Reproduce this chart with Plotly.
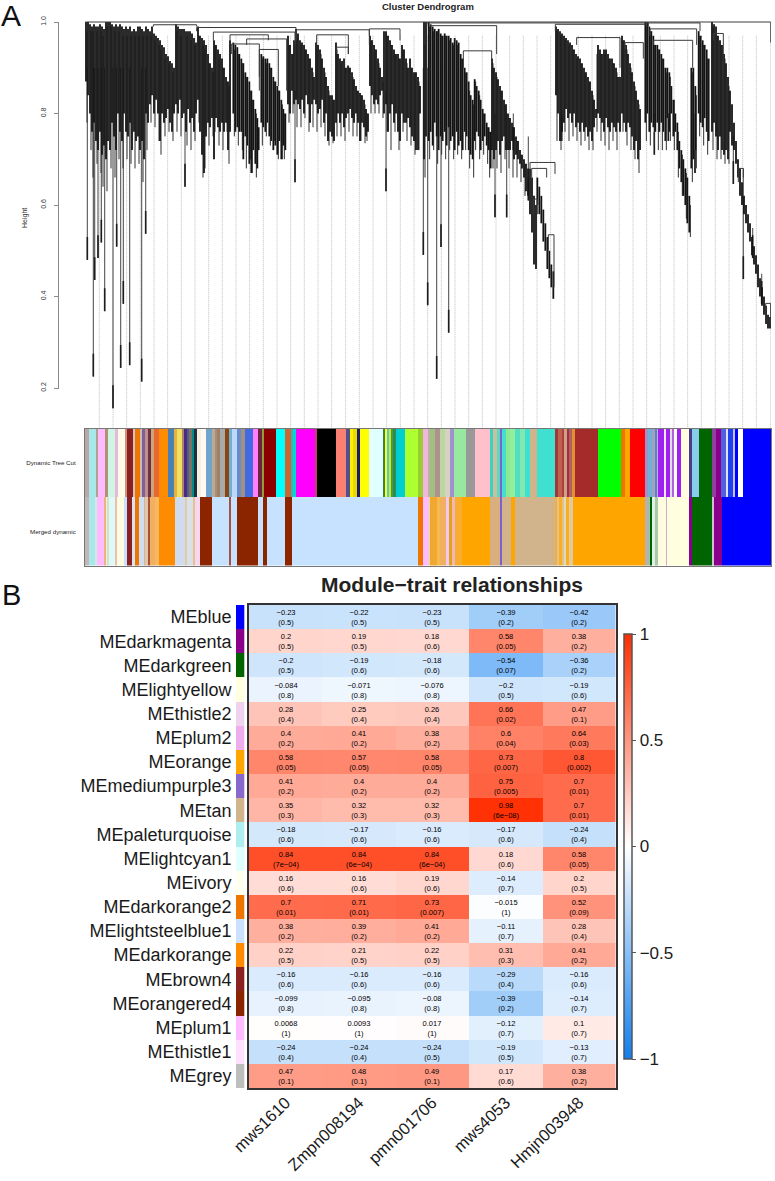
import plotly.graph_objects as go

FONT = "Liberation Sans"
W, H = 775, 1181

# ---------- Panel A data: dendrogram ----------
# (leaf rank, upper height, lower height)
cluster_a = [(258,1.0,.87),(264,1.0,.84),(270,.995,.8),(276,.99,.76),(282,.995,.78),(288,.99,.74),(294,.99,.72),(300,.995,.76),(306,.99,.71),(312,.985,.73),(318,1.0,.70),(324,1.0,.74),(330,1.0,.72),(336,.995,.78),(342,.99,.75),(348,.995,.72),(354,.99,.8),(360,.995,.76),(366,.99,.74),(372,.985,.8),(378,.99,.76),(384,.985,.75),(390,.99,.78),(396,.98,.72),(402,.985,.76),(408,.98,.74),(414,.99,.75),(420,.99,.72),(426,.985,.74),(432,.98,.7),(438,.99,.8),(444,.985,.78),(450,.98,.82)]
cluster_b = [(456,.99,.84),(462,.975,.8),(468,.97,.83),(474,.965,.8),(480,.96,.74),(486,.95,.8),(492,.945,.78),(498,.93,.79),(504,.925,.81),(510,.915,.78),(516,.91,.76),(522,.9,.8)]
cluster_c = [(528,.995,.82),(534,.99,.8),(540,.985,.83),(546,.985,.79),(552,.985,.8),(558,.98,.76),(564,.98,.81),(570,.98,.78),(576,.975,.79),(582,.965,.76),(588,.955,.8)]
cluster_d = [(594,.99,.83),(600,.97,.76),(606,.965,.71),(612,.96,.67),(618,.95,.75),(624,.93,.78),(630,.91,.77),(636,.9,.79)]
cluster_e = [(642,.96,.7),(648,.95,.79),(654,.94,.77),(660,.93,.76),(666,.92,.78),(672,.9,.76),(678,.88,.78),(684,.87,.72),(690,.96,.76)]
cluster_f = [(700,.955,.8),(706,.95,.76),(712,.945,.77),(718,.93,.76),(724,.92,.76),(730,.91,.7),(736,.89,.75),(742,.88,.73),(748,.87,.69),(754,.85,.67),(760,.83,.72),(766,.81,.69),(772,.79,.68),(776,.77,.72)]
cluster_g = [(784,.93,.78),(790,.925,.77),(796,.92,.76),(802,.92,.78),(808,.91,.75),(814,.9,.74),(820,.88,.72),(826,.87,.73),(832,.86,.71),(838,.85,.74),(844,.83,.7),(850,.81,.73),(856,.8,.72)]
cluster_h = [(864,.97,.82),(870,.95,.8),(876,.93,.85),(882,.96,.82)]
cluster_i = [(888,.985,.83),(894,.975,.82),(900,.96,.81),(906,.955,.83),(912,.95,.8),(918,.94,.84),(924,.93,.82),(930,.92,.78),(936,.9,.82),(942,.88,.83)]
cluster_j = [(948,.955,.82),(954,.95,.8),(960,.94,.81),(966,.92,.83),(972,.9,.78),(978,.88,.8),(984,.86,.74),(990,.84,.76),(996,.84,.75),(1002,.83,.74)]
cluster_k = [(1008,.955,.78),(1014,.93,.8),(1020,.92,.78),(1026,.915,.8),(1032,.92,.77),(1038,.9,.79),(1044,.905,.8),(1050,.9,.81),(1056,.89,.79),(1062,.875,.78),(1068,.86,.8),(1074,.85,.78),(1080,.845,.74),(1086,.84,.78),(1092,.83,.77),(1098,.81,.75),(1104,.8,.76)]
cluster_l = [(1110,.97,.86),(1116,.96,.84),(1122,.95,.82),(1128,.94,.83),(1134,.92,.82),(1140,.9,.84),(1146,.88,.85),(1152,.98,.8),(1158,.98,.82),(1164,.97,.76),(1170,.96,.8),(1176,.95,.82),(1182,.94,.78),(1188,.93,.8),(1194,.93,.76),(1200,.92,.74)]
cluster_m = [(1206,.95,.8),(1212,.94,.78),(1218,.92,.78),(1224,.9,.79),(1230,.92,.77),(1236,.9,.75),(1242,.89,.74),(1248,.89,.72),(1254,.88,.72),(1260,.86,.8)]
cluster_n = [(1272,1.0,.7),(1278,1.0,.75)]
cluster_o = [(1286,1.0,.74),(1292,.995,.76),(1298,.99,.73),(1304,.985,.78),(1310,.98,.75),(1316,.985,.72),(1322,.975,.75),(1328,.97,.74),(1334,.975,.76),(1340,.97,.73),(1346,.97,.77),(1352,.965,.74),(1358,.955,.75),(1364,.965,.72),(1370,.96,.76),(1376,.955,.73)]
cluster_p = [(1382,.93,.74),(1388,.92,.72),(1394,.9,.76),(1400,.89,.75),(1406,.87,.72),(1412,.84,.71),(1418,.83,.7)]
cluster_q = [(1424,.875,.74),(1430,.86,.76),(1436,.85,.75),(1442,.83,.72),(1448,.81,.74),(1454,.8,.75),(1460,.78,.73),(1466,.77,.72),(1472,.76,.68)]
cluster_r = [(1476,.92,.72),(1482,.9,.7),(1488,.89,.72),(1494,.875,.74),(1500,.86,.71),(1506,.85,.74),(1512,.83,.75),(1518,.82,.72),(1524,.8,.72),(1530,.79,.72),(1536,.78,.74),(1542,.77,.7),(1548,.75,.71),(1554,.74,.7),(1560,.72,.69),(1566,.71,.68),(1572,.7,.66),(1578,.69,.63),(1584,.68,.62)]
cluster_s = [(1590,.68,.58),(1596,.66,.54),(1602,.62,.47),(1608,.6,.46)]
cluster_t = [(1612,.66,.6),(1618,.64,.58),(1624,.62,.56),(1630,.59,.52),(1636,.56,.5),(1642,.53,.46),(1648,.5,.44),(1654,.47,.42),(1660,.455,.395)]
cluster_u = [(1668,.99,.84),(1674,.985,.8),(1680,.98,.74),(1686,.975,.76),(1692,.97,.78),(1698,.965,.81),(1704,.96,.79),(1710,.955,.8),(1716,.95,.78),(1722,.94,.8),(1728,.93,.77)]
cluster_v = [(1734,.925,.78),(1740,.92,.76),(1746,.91,.78),(1752,.9,.76),(1758,.89,.77),(1764,.88,.75),(1770,.87,.76),(1776,.85,.74),(1782,.83,.77),(1788,.81,.79)]
cluster_w = [(1794,.95,.8),(1800,.94,.79),(1806,.93,.78),(1812,.94,.76),(1818,.94,.79),(1824,.93,.77),(1830,.92,.76),(1836,.92,.78),(1842,.91,.77),(1848,.9,.76)]
cluster_x = [(1854,.88,.78),(1860,.88,.76)]
cluster_y = [(1866,.97,.8),(1872,.96,.78),(1878,.95,.76),(1884,.93,.78),(1890,.91,.77),(1896,.89,.75),(1902,.87,.72),(1908,.85,.74),(1914,.83,.7),(1920,.81,.72)]
cluster_z = [(1936,1.0,.78),(1942,1.0,.8),(1948,.99,.76),(1954,.98,.78),(1960,.97,.77),(1966,.95,.76),(1972,.95,.78),(1978,.94,.76),(1984,.93,.78),(1990,.92,.76),(1996,.9,.74)]
cluster_aa = [(2002,.9,.79),(2008,.89,.76),(2014,.86,.8),(2020,.83,.75),(2026,.8,.76),(2032,.78,.72),(2038,.74,.68),(2044,.72,.65),(2050,.7,.62),(2056,.68,.6),(2062,.66,.56),(2068,.62,.54)]
cluster_ab = [(2074,.9,.68),(2080,.9,.7),(2086,.86,.72)]
cluster_ac = [(2096,.98,.8),(2102,.97,.78),(2108,.96,.77),(2114,.95,.79),(2120,.94,.76),(2126,.92,.74)]
cluster_ad = [(2136,1.0,.76),(2142,.995,.78),(2148,.99,.75),(2154,.97,.72),(2160,.96,.75),(2166,.95,.72),(2172,.93,.71),(2178,.91,.72),(2184,.88,.7)]
cluster_ae = [(2190,.85,.76),(2196,.82,.73),(2202,.78,.72),(2208,.74,.69),(2214,.7,.66),(2220,.68,.62),(2226,.65,.6),(2232,.62,.58),(2238,.6,.56),(2244,.58,.54),(2250,.56,.52),(2256,.53,.49),(2262,.51,.47),(2268,.49,.45),(2274,.47,.42),(2280,.44,.4),(2286,.42,.38),(2292,.4,.36),(2298,.38,.34),(2304,.36,.33),(2310,.355,.33)]

# fine twigs hanging below the dense part
twigs = [(261,.98,.78),(273,.98,.72),(279,.98,.66),(291,.98,.69),(303,.98,.67),(309,.97,.64),(321,.99,.63),(333,.99,.68),(345,.98,.66),(357,.98,.7),(369,.97,.68),(381,.97,.7),(393,.97,.69),(405,.97,.68),(417,.97,.69),(429,.97,.65),(441,.97,.72),(453,.97,.78),
         (465,.96,.77),(477,.95,.74),(483,.94,.71),(495,.92,.75),(507,.91,.76),(519,.89,.74),(531,.98,.76),(543,.97,.75),(561,.97,.73),(573,.96,.72),(585,.95,.74),
         (597,.97,.78),(609,.95,.66),(615,.94,.68),(627,.91,.73),(639,.89,.75),(645,.95,.76),(657,.92,.73),(669,.9,.72),(681,.87,.76),(687,.86,.69),
         (703,.94,.75),(715,.93,.73),(727,.91,.72),(739,.88,.68),(751,.85,.7),(757,.83,.67),(769,.8,.66),(787,.92,.73),(799,.91,.75),(811,.9,.73),(823,.87,.74),(835,.85,.7),(847,.82,.7),(853,.8,.7),
         (867,.95,.78),(879,.93,.8),(891,.97,.77),(903,.95,.77),(915,.94,.79),(927,.92,.76),(939,.89,.77),(951,.94,.76),(963,.93,.77),(975,.89,.75),(987,.85,.73),(999,.83,.735),
         (1011,.94,.75),(1023,.91,.75),(1035,.9,.74),(1047,.9,.76),(1059,.88,.75),(1071,.85,.75),(1083,.84,.74),(1095,.82,.735),(1101,.8,.74),
         (1113,.96,.8),(1125,.94,.8),(1137,.91,.8),(1149,.87,.79),(1161,.97,.76),(1173,.95,.72),(1185,.93,.76),(1197,.92,.72),(1209,.94,.76),(1221,.91,.74),(1233,.9,.73),(1245,.89,.71),(1257,.87,.72),(1275,.95,.66),
         (1289,.99,.7),(1301,.98,.72),(1313,.98,.69),(1325,.97,.71),(1337,.97,.7),(1349,.96,.72),(1361,.95,.7),(1373,.95,.71),(1385,.92,.7),(1397,.89,.72),(1409,.85,.68),(1421,.82,.66),
         (1427,.87,.72),(1439,.84,.7),(1451,.8,.71),(1463,.77,.69),(1469,.76,.66),(1479,.91,.68),(1491,.88,.68),(1503,.85,.67),(1515,.82,.7),(1527,.79,.68),(1539,.77,.66),(1551,.74,.66),(1563,.71,.65),(1575,.69,.62),
         (1671,.98,.74),(1683,.97,.72),(1695,.96,.76),(1707,.95,.74),(1719,.94,.75),(1731,.92,.74),(1743,.91,.73),(1755,.89,.74),(1767,.87,.72),(1779,.84,.72),(1791,.93,.76),(1803,.93,.74),(1815,.93,.73),(1827,.92,.72),(1839,.91,.74),(1851,.89,.72),
         (1869,.96,.76),(1881,.94,.73),(1893,.9,.72),(1905,.86,.7),(1917,.82,.67),(1939,.99,.74),(1951,.98,.73),(1963,.95,.73),(1975,.94,.72),(1987,.92,.72),(1999,.89,.72),
         (2011,.88,.74),(2023,.83,.72),(2035,.76,.66),(2047,.71,.62),(2059,.67,.57),(2071,.6,.53),(2077,.89,.65),(2089,.84,.68),(2099,.97,.75),(2111,.95,.73),(2123,.92,.71),(2139,.99,.72),(2151,.97,.7),(2163,.95,.7),(2175,.92,.69),(2187,.86,.69)]

# single long branches
long_stems = [(262,.9,.48),(280,.9,.225),(284,.9,.436),(294,.9,.484),(304,.9,.518),(314,.9,.368),(339,.9,.156),(350,.9,.509),(362,.9,.244),(370,.9,.384),(389,.9,.25),(425,.9,.214),(437,.9,.537),(555,.8,.64),(885,.85,.65),(1158,.85,.63),(1270,.9,.491),(1283,.9,.381),(1310,.9,.22),(1323,.9,.508),(1346,.9,.321),(1485,.8,.573),(1520,.8,.573),(1540,.8,.72),(1585,.75,.61),(1685,.8,.74),(1963,.8,.71),(2005,.8,.74),(2085,.8,.67),(2200,.75,.646),(2230,.68,.438),(2258,.55,.484),(2285,.45,.384),(2312,1.0,.955)]

# merges: left rank, right rank, merge height, left drop, right drop
merges = [(256,2312,1.0,1.0,1.0),(460,590,.994,.99,.99),(590,888,.988,.98,.96),(640,885,.978,.96,.95),(690,805,.972,.96,.96),(740,860,.963,.95,.85),(695,778,.952,.93,.85),(778,835,.94,.88,.86),(888,1108,.983,.96,.95),(950,1045,.972,.95,.93),(1010,1045,.945,.93,.93),(1108,1200,.985,.97,.96),(1290,1490,.992,.99,.93),(1390,1475,.937,.9,.9),(1590,1665,.693,.68,.668),(1595,1640,.68,.66,.66),(1280,1945,.998,.99,.99),(1666,1940,.995,.98,.99),(1730,1860,.966,.95,.9),(1875,1930,.955,.94,.92),(1940,2100,.998,.99,.98),(1950,2090,.985,.97,.95),(1960,2078,.96,.95,.9),(2140,2170,.975,.96,.93),(2215,2230,.68,.65,.66),(2297,2312,.385,.34,.34),(1645,1662,.535,.5,.42),(1600,1612,.613,.58,.58)]

guide_ranks = [298,339,380,421,462,503,544,585,626,667,708,749,790,831,872,913,954,995,1037,1078,1119,1160,1201,1242,1283,1324,1365,1406,1447,1488,1529,1570,1611,1652,1694,1735,1776,1817,1858,1899,1940,1981,2022,2063,2104,2146,2187,2228,2269,2312]

clusters = [cluster_a,cluster_b,cluster_c,cluster_d,cluster_e,cluster_f,cluster_g,cluster_h,cluster_i,cluster_j,cluster_k,cluster_l,cluster_m,cluster_n,cluster_o,cluster_p,cluster_q,cluster_r,cluster_s,cluster_t,cluster_u,cluster_v,cluster_w,cluster_x,cluster_y,cluster_z,cluster_aa,cluster_ab,cluster_ac,cluster_ad,cluster_ae]

# colour tracks: (start rank, module colour)
track_end = 2313
cut_bands = [(256,"#b8a8a8"),(268,"#a8e8e8"),(290,"#b0a090"),(294,"#ffbbff"),(314,"#b09070"),(323,"#d0f5e5"),(345,"#e8b8d8"),(354,"#fffbe8"),(374,"#d09080"),(381,"#8b2020"),(400,"#d8c0c0"),(405,"#ee7600"),(420,"#c8b8b8"),(426,"#806090"),(436,"#c09090"),(444,"#703040"),(452,"#c8a878"),(463,"#e86830"),(476,"#ff8c00"),(503,"#4682b4"),(523,"#e8b040"),(531,"#f0e060"),(545,"#b08070"),(552,"#4b2a80"),(560,"#486090"),(568,"#807060"),(575,"#008b8b"),(582,"#203040"),(590,"#f5f0e5"),(602,"#fff8f0"),(617,"#6ca6cd"),(636,"#c0a890"),(645,"#a09088"),(652,"#a08060"),(660,"#a9a9a9"),(675,"#8b4513"),(686,"#70b0d0"),(697,"#bfd8f8"),(712,"#6a8ad0"),(722,"#a09080"),(735,"#4169e1"),(760,"#ff80ff"),(775,"#702040"),(785,"#90a030"),(792,"#8b0000"),(828,"#00ffff"),(856,"#cd6633"),(875,"#40b0b0"),(880,"#00d8d8"),(889,"#ff00ff"),(945,"#c04070"),(951,"#000000"),(1007,"#fa8072"),(1038,"#505090"),(1050,"#ffee00"),(1060,"#e8d800"),(1070,"#191970"),(1081,"#ffff00"),(1106,"#e0ffff"),(1150,"#408040"),(1155,"#ffff20"),(1161,"#40d0e0"),(1169,"#e0e020"),(1174,"#40a040"),(1180,"#2e8b57"),(1189,"#00ced1"),(1214,"#adff2f"),(1254,"#9acd32"),(1270,"#f0b8e0"),(1283,"#c0b0a0"),(1290,"#a0c080"),(1305,"#b09090"),(1320,"#b8d8a0"),(1335,"#d8d0c0"),(1350,"#a090d0"),(1363,"#98e8a0"),(1398,"#999999"),(1425,"#ffc0cb"),(1471,"#40d0c0"),(1479,"#c8c0a0"),(1490,"#60d8c0"),(1499,"#8060d0"),(1506,"#40e0d0"),(1517,"#90e890"),(1530,"#90f0a0"),(1545,"#50e0c0"),(1560,"#80e8b0"),(1575,"#40e0d0"),(1590,"#d2b48c"),(1612,"#40e0d0"),(1666,"#a03838"),(1675,"#c06050"),(1685,"#b04040"),(1692,"#d0a080"),(1700,"#a03040"),(1707,"#b06060"),(1717,"#e09030"),(1725,"#a52a2a"),(1795,"#00ff00"),(1862,"#ee7600"),(1875,"#ffa500"),(1890,"#ff0000"),(1935,"#a090d0"),(1945,"#70b0d0"),(1955,"#a0a0c0"),(1965,"#6080c0"),(1971,"#c0b0f0"),(1975,"#a020f0"),(1992,"#f0e8f0"),(1998,"#a020f0"),(2011,"#e0e0e0"),(2015,"#b060e0"),(2022,"#fffef0"),(2032,"#a020f0"),(2042,"#fffce0"),(2067,"#483d8b"),(2076,"#87ceeb"),(2096,"#006400"),(2135,"#9040a0"),(2148,"#8b008b"),(2163,"#5060e0"),(2178,"#e0e0f8"),(2185,"#2040f0"),(2200,"#c0c0f8"),(2205,"#0000ff"),(2213,"#ffffff"),(2228,"#0000ff")]
merged_bands = [(256,"#c0b8b8"),(268,"#a8e8e8"),(286,"#d0e8e8"),(292,"#ffbbff"),(312,"#f0b080"),(318,"#f5e8e0"),(323,"#c8e8c8"),(328,"#e0f8f8"),(345,"#e8c0b0"),(350,"#fffbe0"),(372,"#c8e0ff"),(380,"#8b2020"),(397,"#d8e4f4"),(405,"#ee7600"),(418,"#d0dcf0"),(432,"#e8b080"),(436,"#d8c8b8"),(445,"#a85030"),(450,"#f0b060"),(466,"#f8b860"),(476,"#ff8c00"),(524,"#cfdcf0"),(556,"#e8c8a0"),(560,"#d8e0e8"),(580,"#e8c090"),(584,"#f5d8f0"),(600,"#8b2500"),(636,"#c6e2ff"),(686,"#a85040"),(692,"#c6e2ff"),(711,"#8b2500"),(774,"#c6e2ff"),(790,"#8b2500"),(800,"#c6e2ff"),(856,"#8b2500"),(875,"#c6e2ff"),(1253,"#ee7600"),(1270,"#ffbbff"),(1283,"#f0d0c0"),(1290,"#f0a830"),(1310,"#f8b850"),(1320,"#f0b060"),(1337,"#f0c8f0"),(1347,"#e0a020"),(1357,"#f0b8b0"),(1365,"#f8ac30"),(1387,"#ffa500"),(1471,"#d8b080"),(1499,"#8060d0"),(1506,"#d2b48c"),(1532,"#ffa500"),(1544,"#d2b48c"),(1665,"#f0b040"),(1671,"#e8c090"),(1677,"#f8b020"),(1687,"#e0c090"),(1691,"#e0d8c0"),(1699,"#f8b020"),(1707,"#f0c890"),(1711,"#e0c8a0"),(1719,"#ffa500"),(1937,"#c8a8b8"),(1941,"#a0c0a0"),(1951,"#006400"),(1955,"#e0f0e8"),(1965,"#a8c8a8"),(1975,"#fffce0"),(1999,"#d0a8d0"),(2001,"#ffffe0"),(2067,"#8b008b"),(2076,"#006400"),(2135,"#d0c0d0"),(2143,"#8b008b"),(2165,"#0000ff")]

y_ticks = [0.2, 0.4, 0.6, 0.8, 1.0]

# ---------- Panel B data ----------
traits = ["mws1610", "Zmpn008194", "pmn001706", "mws4053", "Hmjn003948"]
modules = ["MEblue","MEdarkmagenta","MEdarkgreen","MElightyellow","MEthistle2","MEplum2","MEorange","MEmediumpurple3","MEtan","MEpaleturquoise","MElightcyan1","MEivory","MEdarkorange2","MElightsteelblue1","MEdarkorange","MEbrown4","MEorangered4","MEplum1","MEthistle1","MEgrey"]
module_colors = ["#0000ff","#8b008b","#006400","#ffffe0","#eed2ee","#eeaeee","#ffa500","#8968cd","#d2b48c","#afeeee","#e0ffff","#fffff0","#ee7600","#cae1ff","#ff8c00","#8b2323","#8b2500","#ffbbff","#ffe1ff","#bebebe"]
corr = [
    [-0.23,-0.22,-0.23,-0.39,-0.42],
    [0.2,0.19,0.18,0.58,0.38],
    [-0.2,-0.19,-0.18,-0.54,-0.36],
    [-0.084,-0.071,-0.076,-0.2,-0.19],
    [0.28,0.25,0.26,0.66,0.47],
    [0.4,0.41,0.38,0.6,0.64],
    [0.58,0.57,0.58,0.73,0.8],
    [0.41,0.4,0.4,0.75,0.7],
    [0.35,0.32,0.32,0.98,0.7],
    [-0.18,-0.17,-0.16,-0.17,-0.24],
    [0.84,0.84,0.84,0.18,0.58],
    [0.16,0.16,0.19,-0.14,0.2],
    [0.7,0.71,0.73,-0.015,0.52],
    [0.38,0.39,0.41,-0.11,0.28],
    [0.22,0.21,0.22,0.31,0.41],
    [-0.16,-0.16,-0.16,-0.29,-0.16],
    [-0.099,-0.095,-0.08,-0.39,-0.14],
    [0.0068,0.0093,0.017,-0.12,0.1],
    [-0.24,-0.24,-0.24,-0.19,-0.13],
    [0.47,0.48,0.49,0.17,0.38],
]
pvals = [
    ["0.5","0.5","0.5","0.2","0.2"],
    ["0.5","0.5","0.6","0.05","0.2"],
    ["0.5","0.6","0.6","0.07","0.2"],
    ["0.8","0.8","0.8","0.5","0.6"],
    ["0.4","0.4","0.4","0.02","0.1"],
    ["0.2","0.2","0.2","0.04","0.03"],
    ["0.05","0.05","0.05","0.007","0.002"],
    ["0.2","0.2","0.2","0.005","0.01"],
    ["0.3","0.3","0.3","6e-08","0.01"],
    ["0.6","0.6","0.6","0.6","0.4"],
    ["7e-04","6e-04","6e-04","0.6","0.05"],
    ["0.6","0.6","0.6","0.7","0.5"],
    ["0.01","0.01","0.007","1","0.09"],
    ["0.2","0.2","0.2","0.7","0.4"],
    ["0.5","0.5","0.5","0.3","0.2"],
    ["0.6","0.6","0.6","0.4","0.6"],
    ["0.8","0.8","0.8","0.2","0.7"],
    ["1","1","1","0.7","0.7"],
    ["0.4","0.4","0.5","0.5","0.7"],
    ["0.1","0.1","0.1","0.6","0.2"],
]
cbar_ticks = [-1, -0.5, 0, 0.5, 1]
cbar_labels = ["\u22121", "\u22120.5", "0", "0.5", "1"]


def fx(p):
    return p / W


def fy(p):
    return 1 - p / H


def cell(v, p):
    return f"{v}".replace("-", "\u2212") + "<br>(" + p.replace("-", "\u2212") + ")"


def vlines(triples):
    xs, ys = [], []
    for x, a, b in triples:
        xs += [x, x, None]
        ys += [a, b, None]
    return xs, ys


def band_widths(bands):
    starts = [b[0] for b in bands]
    ends = starts[1:] + [track_end]
    return starts, [e - s for s, e in zip(starts, ends)], [b[1] for b in bands]


def lines_trace(xs, ys, color, width, dash=None):
    return go.Scatter(x=xs, y=ys, mode="lines", hoverinfo="skip", showlegend=False,
                      line=dict(color=color, width=width, dash=dash))


fig = go.Figure()

# guides
gx, gy = vlines([(g, 0.97, 0.11) for g in guide_ranks])
fig.add_trace(lines_trace(gx, gy, "#bdbdbd", 1, "1px,1px"))
# long branches, with their darker ends
sx, sy = vlines(long_stems)
fig.add_trace(lines_trace(sx, sy, "#555555", 1.1))
tx, ty = vlines([(x, b + 0.05, b) for x, a, b in long_stems[:-1]])
fig.add_trace(lines_trace(tx, ty, "#1c1c1c", 1.6))
# twigs
wx, wy = vlines(twigs)
fig.add_trace(lines_trace(wx, wy, "#303030", 1))
# dense dendrogram branches
dx, dy = [], []
for c in clusters:
    a, b = vlines(c)
    dx += a
    dy += b
fig.add_trace(lines_trace(dx, dy, "#141414", 1.8))
# merges
mx, my = [], []
for l, r, h, dl, dr in merges:
    mx += [l, l, r, r, None]
    my += [dl, h, h, dr, None]
fig.add_trace(lines_trace(mx, my, "#3a3a3a", 1))

# colour tracks
for name, bands in (("Dynamic Tree Cut", cut_bands), ("Merged dynamic", merged_bands)):
    starts, widths, colors = band_widths(bands)
    fig.add_trace(go.Bar(y=[name] * len(bands), base=starts, x=widths, orientation="h",
                         marker=dict(color=colors, line=dict(width=0)), xaxis="x2", yaxis="y2",
                         hoverinfo="skip", showlegend=False))

# heatmap
fig.add_trace(go.Heatmap(
    z=corr, x=traits, y=modules, zmin=-1, zmax=1, xaxis="x3", yaxis="y3",
    colorscale=[[0, "#0f7ff0"], [0.5, "#ffffff"], [1, "#ff2d00"]],
    text=[[cell(v, p) for v, p in zip(rv, rp)] for rv, rp in zip(corr, pvals)],
    texttemplate="%{text}", textfont=dict(family=FONT, size=7.5, color="#000000"),
    hoverinfo="skip",
    colorbar=dict(x=fx(623.5), xanchor="left", xpad=0, ypad=0, y=fy(634), yanchor="top",
                  lenmode="pixels", len=425, thicknessmode="pixels", thickness=8,
                  outlinecolor="#555555", outlinewidth=1.5,
                  tickvals=cbar_ticks, ticktext=cbar_labels, ticks="outside", ticklen=4,
                  tickcolor="#555555", tickfont=dict(family=FONT, size=17, color="#1a1a1a")),
))
# module colour strip
fig.add_trace(go.Bar(y=modules, x=[1] * len(modules), orientation="h",
                     marker=dict(color=module_colors, line=dict(width=0)),
                     xaxis="x4", yaxis="y4", hoverinfo="skip", showlegend=False))

RANK = [255, 2313]
fig.update_layout(
    width=W, height=H, margin=dict(l=0, r=0, t=0, b=0, pad=0), paper_bgcolor="white", plot_bgcolor="white",
    barmode="overlay", bargap=0, showlegend=False,
    font=dict(family=FONT, color="#1a1a1a"),
    xaxis=dict(domain=[fx(85), fx(771)], range=RANK, visible=False, automargin=False),
    yaxis=dict(domain=[fy(429), fy(20)], range=[0.1104, 1.0044], anchor="free", position=fx(58.5),
               showline=False, showgrid=False, zeroline=False, tickvals=y_ticks,
               ticktext=["0.2", "0.4", "0.6", "0.8", "1.0"], tickangle=-90, ticks="outside", ticklen=5,
               tickcolor="#8a8a8a", tickfont=dict(size=7, color="#333333"), ticklabelstandoff=5,
               automargin=False),
    xaxis2=dict(domain=[fx(85), fx(771)], range=RANK, anchor="y2", showticklabels=False, ticks="", automargin=False,
                showgrid=False, zeroline=False, showline=True, mirror=True, linecolor="#777777", linewidth=1),
    yaxis2=dict(domain=[fy(565.5), fy(429)], anchor="x2", autorange="reversed", type="category", automargin=False,
                showgrid=False, zeroline=False, showline=True, mirror=True, linecolor="#777777", linewidth=1,
                ticks="", ticklabelstandoff=7, tickfont=dict(size=6.2, color="#222222"),
                categoryorder="array", categoryarray=["Dynamic Tree Cut", "Merged dynamic"]),
    xaxis3=dict(domain=[fx(249), fx(615.5)], anchor="y3", type="category", tickangle=-44, ticks="", automargin=False,
                tickfont=dict(size=16.5, color="#1a1a1a"), ticklabelstandoff=-3, showgrid=False, zeroline=False,
                showline=True, mirror=True, linecolor="#333333", linewidth=1.5),
    yaxis3=dict(domain=[fy(1088), fy(605)], anchor="x3", type="category", autorange="reversed", automargin=False,
                showticklabels=False, ticks="", showgrid=False, zeroline=False, showline=True,
                mirror=True, linecolor="#333333", linewidth=1.5),
    xaxis4=dict(domain=[fx(235.5), fx(244.3)], anchor="y4", range=[0, 1], visible=False, automargin=False),
    yaxis4=dict(domain=[fy(1088), fy(605)], anchor="x4", type="category", autorange="reversed", automargin=False,
                showgrid=False, zeroline=False, showline=False, ticks="", ticklabelstandoff=3,
                tickfont=dict(size=18, color="#1a1a1a")),
    shapes=[dict(type="line", xref="paper", yref="y", x0=fx(58.5), x1=fx(58.5), y0=0.2, y1=1.0,
                 line=dict(color="#8a8a8a", width=1))],
    annotations=[
        dict(text="A", xref="paper", yref="paper", x=fx(11), y=fy(15), xanchor="center", yanchor="middle",
             showarrow=False, font=dict(size=30, color="#111111")),
        dict(text="B", xref="paper", yref="paper", x=fx(11), y=fy(595), xanchor="center", yanchor="middle",
             showarrow=False, font=dict(size=29, color="#111111")),
        dict(text="<b>Cluster Dendrogram</b>", xref="paper", yref="paper", x=fx(428), y=fy(7), xanchor="center",
             yanchor="middle", showarrow=False, font=dict(size=9.5, color="#222222")),
        dict(text="Height", xref="paper", yref="paper", x=fx(25), y=fy(218), xanchor="center", yanchor="middle",
             showarrow=False, textangle=-90, font=dict(size=7, color="#333333")),
        dict(text="<b>Module\u2212trait relationships</b>", xref="paper", yref="paper", x=fx(452), y=fy(584),
             xanchor="center", yanchor="middle", showarrow=False, font=dict(size=21, color="#222222")),
    ],
)
fig.write_html("out.html", post_script="document.body.style.margin='0';", config={"displayModeBar": False})
